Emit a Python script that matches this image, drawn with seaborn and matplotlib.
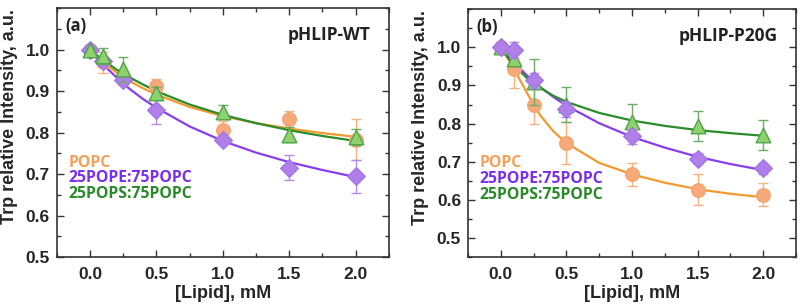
import numpy as np
import pandas as pd
import seaborn as sns
import matplotlib.pyplot as plt
from matplotlib.ticker import MultipleLocator

# --- data ---
conc = [0.0, 0.1, 0.25, 0.5, 1.0, 1.5, 2.0]
fit_conc = [0.0, 0.05, 0.1, 0.2, 0.3, 0.4, 0.5, 0.75, 1.0, 1.25, 1.5, 1.75, 2.0]

# (a) pHLIP-WT
wt_popc = [1.0, 0.970, 0.930, 0.913, 0.807, 0.833, 0.783]
wt_popc_err = [0.005, 0.025, 0.015, 0.017, 0.02, 0.02, 0.05]
wt_pope = [1.0, 0.972, 0.928, 0.855, 0.783, 0.716, 0.695]
wt_pope_err = [0.005, 0.01, 0.01, 0.035, 0.01, 0.03, 0.04]
wt_pops = [1.0, 0.985, 0.953, 0.895, 0.849, 0.795, 0.790]
wt_pops_err = [0.005, 0.02, 0.03, 0.015, 0.017, 0.018, 0.02]
wt_popc_fit = [1.0, 0.984, 0.970, 0.945, 0.924, 0.907, 0.892, 0.862, 0.840,
               0.823, 0.810, 0.799, 0.790]
wt_pope_fit = [1.0, 0.981, 0.964, 0.933, 0.905, 0.881, 0.860, 0.815, 0.780,
               0.752, 0.729, 0.710, 0.693]
wt_pops_fit = [1.0, 0.987, 0.975, 0.952, 0.933, 0.916, 0.900, 0.868, 0.843,
               0.823, 0.806, 0.792, 0.780]

# (b) pHLIP-P20G
p20g_popc = [1.0, 0.944, 0.848, 0.749, 0.667, 0.627, 0.613]
p20g_popc_err = [0.005, 0.05, 0.05, 0.055, 0.03, 0.04, 0.03]
p20g_pope = [1.0, 0.993, 0.913, 0.837, 0.767, 0.708, 0.683]
p20g_pope_err = [0.005, 0.02, 0.02, 0.02, 0.02, 0.015, 0.015]
p20g_pops = [1.0, 0.970, 0.910, 0.850, 0.805, 0.794, 0.770]
p20g_pops_err = [0.005, 0.02, 0.06, 0.045, 0.047, 0.04, 0.04]
p20g_popc_fit = [1.0, 0.972, 0.944, 0.880, 0.822, 0.780, 0.749, 0.697, 0.667,
                 0.645, 0.628, 0.616, 0.607]
p20g_pope_fit = [1.0, 0.979, 0.960, 0.926, 0.896, 0.870, 0.847, 0.801, 0.765,
                 0.737, 0.713, 0.694, 0.678]
p20g_pops_fit = [1.0, 0.975, 0.953, 0.919, 0.894, 0.873, 0.857, 0.828, 0.808,
                 0.794, 0.783, 0.775, 0.768]

lipids = ["POPC", "25POPE:75POPC", "25POPS:75POPC"]

# --- style ---
line_col = {"POPC": "#f39a2c", "25POPE:75POPC": "#8a3cef",
            "25POPS:75POPC": "#2b8c2b"}
fill_col = {"POPC": "#f7a97c", "25POPE:75POPC": "#b07fe9",
            "25POPS:75POPC": "#8fd16d"}
edge_col = {"POPC": "#f5a56e", "25POPE:75POPC": "#a275e6",
            "25POPS:75POPC": "#4fa44a"}
err_col = {"POPC": "#f6b27e", "25POPE:75POPC": "#b58ce8",
           "25POPS:75POPC": "#6aae62"}
text_col = {"POPC": "#f5a05a", "25POPE:75POPC": "#7a2ef0",
            "25POPS:75POPC": "#2a8a2a"}
markers = {"POPC": "o", "25POPE:75POPC": "D", "25POPS:75POPC": "^"}
msize = {"POPC": 95, "25POPE:75POPC": 80, "25POPS:75POPC": 110}

sns.set_style("ticks")
plt.rcParams["font.family"] = ["Liberation Sans", "DejaVu Sans"]

fig = plt.figure(figsize=(8, 3.05), dpi=100)
ax_a = fig.add_axes([0.071, 0.157, 0.415, 0.816])
ax_b = fig.add_axes([0.585, 0.157, 0.41, 0.813])

panels = [
    (ax_a, "(a)", "pHLIP-WT", (0.5, 1.1),
     {"POPC": (wt_popc, wt_popc_err, wt_popc_fit),
      "25POPE:75POPC": (wt_pope, wt_pope_err, wt_pope_fit),
      "25POPS:75POPC": (wt_pops, wt_pops_err, wt_pops_fit)},
     ["POPC", "25POPE:75POPC", "25POPS:75POPC"]),
    (ax_b, "(b)", "pHLIP-P20G", (0.45, 1.1),
     {"POPC": (p20g_popc, p20g_popc_err, p20g_popc_fit),
      "25POPE:75POPC": (p20g_pope, p20g_pope_err, p20g_pope_fit),
      "25POPS:75POPC": (p20g_pops, p20g_pops_err, p20g_pops_fit)},
     ["POPC", "25POPS:75POPC", "25POPE:75POPC"]),
]

for ax, tag, title, ylim, series, order in panels:
    # fitted curves underneath
    for name in lipids:
        fit_df = pd.DataFrame({"x": fit_conc, "y": series[name][2]})
        sns.lineplot(data=fit_df, x="x", y="y", ax=ax, color=line_col[name],
                     linewidth=1.6, zorder=2)
    for k, name in enumerate(order):
        vals, errs, _ = series[name]
        ax.errorbar(conc, vals, yerr=errs, fmt="none", ecolor=err_col[name],
                    elinewidth=1.0, capsize=3.5, capthick=1.0, zorder=3 + k)
        pts = pd.DataFrame({"x": conc, "y": vals})
        sns.scatterplot(data=pts, x="x", y="y", ax=ax, marker=markers[name],
                        s=msize[name], color=fill_col[name],
                        edgecolor=edge_col[name], linewidth=1.0,
                        zorder=3.5 + k)

    ax.set_xlim(-0.25, 2.25)
    ax.set_ylim(*ylim)
    ax.xaxis.set_minor_locator(MultipleLocator(0.25))
    ax.yaxis.set_minor_locator(MultipleLocator(0.05))
    ax.set_yticks(np.arange(0.5, 1.05, 0.1))
    ax.set_yticklabels([f"{v:.1f}" for v in np.arange(0.5, 1.05, 0.1)])
    ax.set_xticks([0.0, 0.5, 1.0, 1.5, 2.0])
    ax.set_xticklabels(["0.0", "0.5", "1.0", "1.5", "2.0"])
    ax.tick_params(which="both", direction="in", top=True, right=True,
                   color="#333333", width=1.0)
    ax.tick_params(which="major", length=5, labelsize=12.5)
    ax.tick_params(axis="x", which="major", pad=7)
    ax.tick_params(axis="y", which="major", pad=5)
    ax.tick_params(which="minor", length=3)
    for lab in ax.get_xticklabels() + ax.get_yticklabels():
        lab.set_fontweight("bold")
    for sp in ax.spines.values():
        sp.set_color("#333333")
        sp.set_linewidth(1.2)

    ax.set_xlabel("[Lipid], mM", fontsize=13, fontweight="bold", labelpad=2)
    ax.set_ylabel("Trp relative Intensity, a.u.", fontsize=13,
                  fontweight="bold")
    ax.yaxis.set_label_coords(-0.118, 0.565)

    ax.text(0.025, 0.93, tag, transform=ax.transAxes, fontsize=12,
            fontweight="bold", family="Open Sans", va="center", ha="left",
            color="#222222")
    ax.text(0.945, 0.893, title, transform=ax.transAxes, fontsize=12.5,
            fontweight="bold", family="Open Sans", va="center", ha="right",
            color="#222222")
    for j, name in enumerate(lipids):
        ax.text(0.035, 0.38 - 0.064 * j, name, transform=ax.transAxes,
                fontsize=11.3, fontweight="bold", family="Open Sans",
                color=text_col[name], va="center", ha="left")

fig.savefig("out.png", dpi=100)
